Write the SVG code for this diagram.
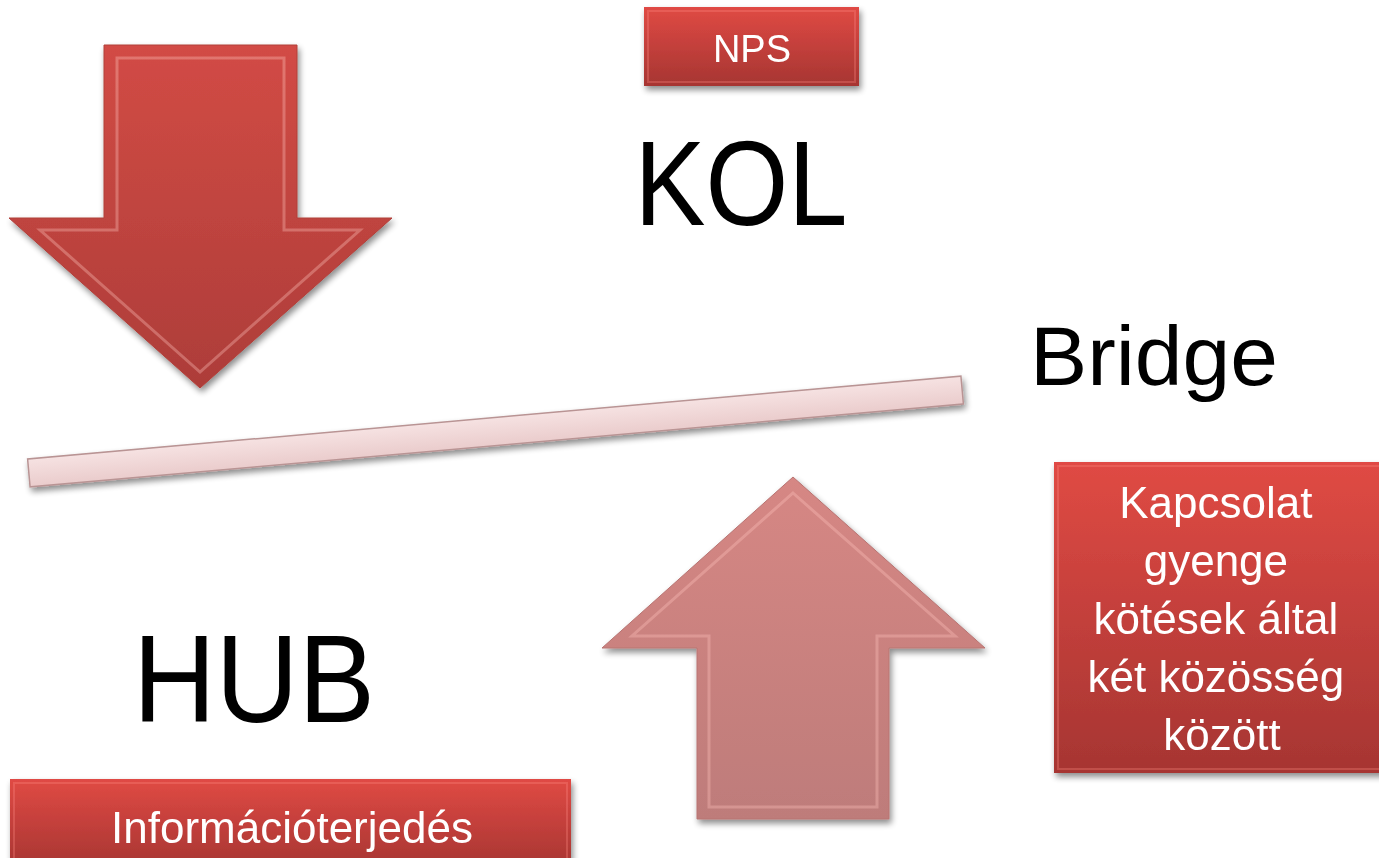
<svg xmlns="http://www.w3.org/2000/svg" width="1379" height="858" viewBox="0 0 1379 858">
<style>
.w{fill:#ffffff;font-family:"Liberation Sans",Arial,sans-serif;text-anchor:middle}
.b{fill:#000000;font-family:"Liberation Sans",Arial,sans-serif;text-anchor:middle}
.hl{fill:none;stroke:#ffc2bd;stroke-width:3;stroke-opacity:0.35;stroke-linejoin:miter}
</style>
<defs>
<linearGradient id="redArrow" x1="0" y1="0" x2="0" y2="1">
<stop offset="0" stop-color="#d24b45"/>
<stop offset="1" stop-color="#ad3d39"/>
</linearGradient>
<linearGradient id="pinkArrow" x1="0" y1="0" x2="0" y2="1">
<stop offset="0" stop-color="#d68784"/>
<stop offset="1" stop-color="#be7c7a"/>
</linearGradient>
<linearGradient id="box" x1="0" y1="0" x2="0" y2="1">
<stop offset="0" stop-color="#e04a44"/>
<stop offset="1" stop-color="#a63532"/>
</linearGradient>
<linearGradient id="bar" x1="0" y1="0" x2="0" y2="1">
<stop offset="0" stop-color="#f6e2e2"/>
<stop offset="1" stop-color="#eacccc"/>
</linearGradient>
<filter id="sh" x="-10%" y="-10%" width="125%" height="130%">
<feGaussianBlur in="SourceAlpha" stdDeviation="3"/>
<feOffset dx="2" dy="4" result="o"/>
<feComponentTransfer><feFuncA type="linear" slope="0.45"/></feComponentTransfer>
<feMerge><feMergeNode/><feMergeNode in="SourceGraphic"/></feMerge>
</filter>
</defs>

<g id="arrow-down" filter="url(#sh)">
<polygon points="104,45 297,45 297,218 392,218 200,388 9,218 104,218" fill="url(#redArrow)" stroke="#b0403b" stroke-width="1"/>
<polygon class="hl" points="117,58 284,58 284,230 360,230 200,372 40,230 117,230"/>
</g>

<g id="nps" filter="url(#sh)">
<rect x="644" y="7" width="215" height="79" fill="url(#box)"/>
<rect x="648" y="11" width="207" height="71" fill="none" stroke="#ff8a84" stroke-opacity="0.3" stroke-width="2"/>
<text class="w" x="752" y="62" font-size="38">NPS</text>
</g>

<g id="kol">
<text class="b" x="741" y="225" font-size="121" textLength="213" lengthAdjust="spacingAndGlyphs">KOL</text>
</g>

<g id="bridge-bar" filter="url(#sh)">
<rect x="27" y="417.5" width="937" height="28" transform="rotate(-5.08 495.5 431.5)" fill="url(#bar)" stroke="#b99494" stroke-width="1.5"/>
</g>

<g id="bridge">
<text class="b" x="1154" y="385" font-size="84" textLength="248" lengthAdjust="spacingAndGlyphs">Bridge</text>
</g>

<g id="hub">
<text class="b" x="254" y="722" font-size="125" textLength="242" lengthAdjust="spacingAndGlyphs">HUB</text>
</g>

<g id="arrow-up" filter="url(#sh)">
<polygon points="793,477 985,648 889,648 889,819 697,819 697,648 602,648" fill="url(#pinkArrow)" stroke="#b87472" stroke-width="1"/>
<polygon class="hl" points="793,493 955,636 877,636 877,807 709,807 709,636 632,636"/>
</g>

<g id="kapcsolat" filter="url(#sh)">
<rect x="1054" y="462" width="330" height="311" fill="url(#box)"/>
<rect x="1058" y="466" width="330" height="303" fill="none" stroke="#ff8a84" stroke-opacity="0.3" stroke-width="2"/>
<text class="w" font-size="44">
<tspan x="1222" y="518">Kapcsolat</tspan>
<tspan x="1222" y="576">gyenge</tspan>
<tspan x="1222" y="634">kötések által</tspan>
<tspan x="1222" y="692">két közösség</tspan>
<tspan x="1222" y="750">között</tspan>
</text>
</g>

<g id="informacio" filter="url(#sh)">
<rect x="10" y="779" width="561" height="90" fill="url(#box)"/>
<rect x="14" y="783" width="553" height="80" fill="none" stroke="#ff8a84" stroke-opacity="0.3" stroke-width="2"/>
<text class="w" x="292" y="843" font-size="44">Információterjedés</text>
</g>

<g id="connectors"/>
</svg>
